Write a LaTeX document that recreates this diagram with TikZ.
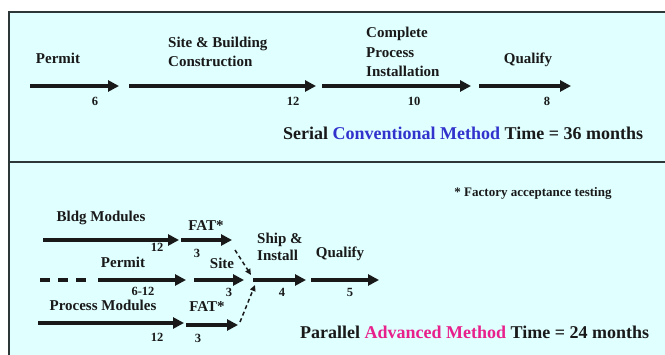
\documentclass[tikz,border=0pt]{standalone}
\usepackage{fontspec}
\setmainfont{Liberation Serif}
\usetikzlibrary{positioning, arrows.meta}

\definecolor{panelfill}{RGB}{224,255,255}
\definecolor{framegray}{RGB}{45,55,55}
\definecolor{convblue}{RGB}{50,50,205}
\definecolor{advpink}{RGB}{232,32,140}

\begin{document}
\begin{tikzpicture}[
    x=1pt, y=-1pt,
    % thick black schedule arrows
    arr/.style={-{Triangle[length=11pt,width=11pt]}, line width=3.4pt, draw=black!90},
    % thin dashed arrows merging into Ship & Install
    darr/.style={-{Triangle[length=6pt,width=5.5pt]}, line width=1.5pt, dash pattern=on 4pt off 3pt, draw=black!90},
    lbl/.style={font=\fontsize{15}{19.5}\selectfont\bfseries, align=left, inner sep=0pt, text=black!90},
    num/.style={font=\fontsize{12.5}{14}\selectfont\bfseries, inner sep=0pt, text=black!90},
    sumline/.style={font=\fontsize{18}{22}\selectfont\bfseries, inner sep=0pt, text=black!90}
]

    % --- FONDO Y MARCO ---
    \useasboundingbox (0,0) rectangle (665,355);
    \fill[white] (0,0) rectangle (665,355);
    \fill[panelfill] (9,12) rectangle (665,355);
    \draw[framegray, line width=1.4pt] (9,355) -- (9,12) -- (665,12);
    \draw[framegray, line width=2pt] (9,162) -- (665,162);

    % --- SERIAL: COORDENADAS DE LAS FLECHAS ---
    \coordinate (perm-a) at (30,86);   \coordinate (perm-b) at (119,86);
    \coordinate (site-a) at (129,86);  \coordinate (site-b) at (316,86);
    \coordinate (proc-a) at (322,86);  \coordinate (proc-b) at (471,86);
    \coordinate (qual-a) at (479,86);  \coordinate (qual-b) at (571,86);

    \draw[arr] (perm-a) -- (perm-b);
    \draw[arr] (site-a) -- (site-b);
    \draw[arr] (proc-a) -- (proc-b);
    \draw[arr] (qual-a) -- (qual-b);

    % --- SERIAL: TEXTOS ---
    \node[lbl] (perm-t) at (58,58) {Permit};
    \node[lbl, anchor=west] (site-t) at (168,52) {Site \& Building\\Construction};
    \node[lbl, anchor=west] (proc-t) at (366,52) {Complete\\Process\\Installation};
    \node[lbl] (qual-t) at (528,60) {Qualify};

    \node[num] (perm-n) at (95,101) {6};
    \node[num] (site-n) at (293,101) {12};
    \node[num] (proc-n) at (414,101) {10};
    \node[num] (qual-n) at (547,101) {8};

    \node[sumline, anchor=west] (serial) at (283,133)
        {Serial \textcolor{convblue}{Conventional Method} Time = 36 months};

    % --- PARALELO: COORDENADAS DE LAS FLECHAS ---
    \coordinate (bldg-a) at (43,240);   \coordinate (bldg-b) at (179,240);
    \coordinate (fat1-a) at (181,240);  \coordinate (fat1-b) at (232,240);
    \coordinate (pdash-a) at (40,280);  \coordinate (pdash-b) at (88,280);
    \coordinate (pprm-a) at (98,280);   \coordinate (pprm-b) at (186,280);
    \coordinate (psit-a) at (194,280);  \coordinate (psit-b) at (244,280);
    \coordinate (ship-a) at (253,280);  \coordinate (ship-b) at (306,280);
    \coordinate (pqul-a) at (311,280);  \coordinate (pqul-b) at (379,280);
    \coordinate (pmod-a) at (38,323);   \coordinate (pmod-b) at (184,323);
    \coordinate (fat2-a) at (186,325);  \coordinate (fat2-b) at (238,325);
    \coordinate (join-up) at (251,275);
    \coordinate (join-dn) at (255,285);

    \draw[arr] (bldg-a) -- (bldg-b);
    \draw[arr] (fat1-a) -- (fat1-b);
    \draw[line width=3.4pt, draw=black!90, dash pattern=on 10pt off 8pt] (pdash-a) -- (pdash-b);
    \draw[arr] (pprm-a) -- (pprm-b);
    \draw[arr] (psit-a) -- (psit-b);
    \draw[arr] (ship-a) -- (ship-b);
    \draw[arr] (pqul-a) -- (pqul-b);
    \draw[arr] (pmod-a) -- (pmod-b);
    \draw[arr] (fat2-a) -- (fat2-b);

    % las dos FAT convergen en el sitio
    \draw[darr] ([xshift=3pt, yshift=-10pt]fat1-b) -- (join-up);
    \draw[darr] ([xshift=2pt, yshift=3pt]fat2-b) -- (join-dn);

    % --- PARALELO: TEXTOS ---
    \node[lbl] (bldg-t) at (101,218) {Bldg Modules};
    \node[lbl] (fat1-t) at (206,226) {FAT*};
    \node[lbl] (pprm-t) at (123,262) {Permit};
    \node[lbl] (psit-t) at (222,263) {Site};
    \node[lbl, anchor=west, font=\fontsize{15}{17.5}\selectfont\bfseries] (ship-t) at (257,247) {Ship \&\\Install};
    \node[lbl] (pqul-t) at (340,254) {Qualify};
    \node[lbl] (pmod-t) at (103,305) {Process Modules};
    \node[lbl] (fat2-t) at (207,307) {FAT*};

    \node[num] (bldg-n) at (157,247) {12};
    \node[num] (fat1-n) at (197,253) {3};
    \node[num] (pprm-n) at (143,291) {6-12};
    \node[num] (psit-n) at (229,292) {3};
    \node[num] (ship-n) at (282,292) {4};
    \node[num] (pqul-n) at (350,292) {5};
    \node[num] (pmod-n) at (157,337) {12};
    \node[num] (fat2-n) at (198,338) {3};

    \node[num, font=\fontsize{13}{15}\selectfont\bfseries] (fatnote) at (533,193) {* Factory acceptance testing};

    \node[sumline, anchor=west] (parallel) at (300,332)
        {Parallel \textcolor{advpink}{Advanced Method} Time = 24 months};

\end{tikzpicture}
\end{document}
